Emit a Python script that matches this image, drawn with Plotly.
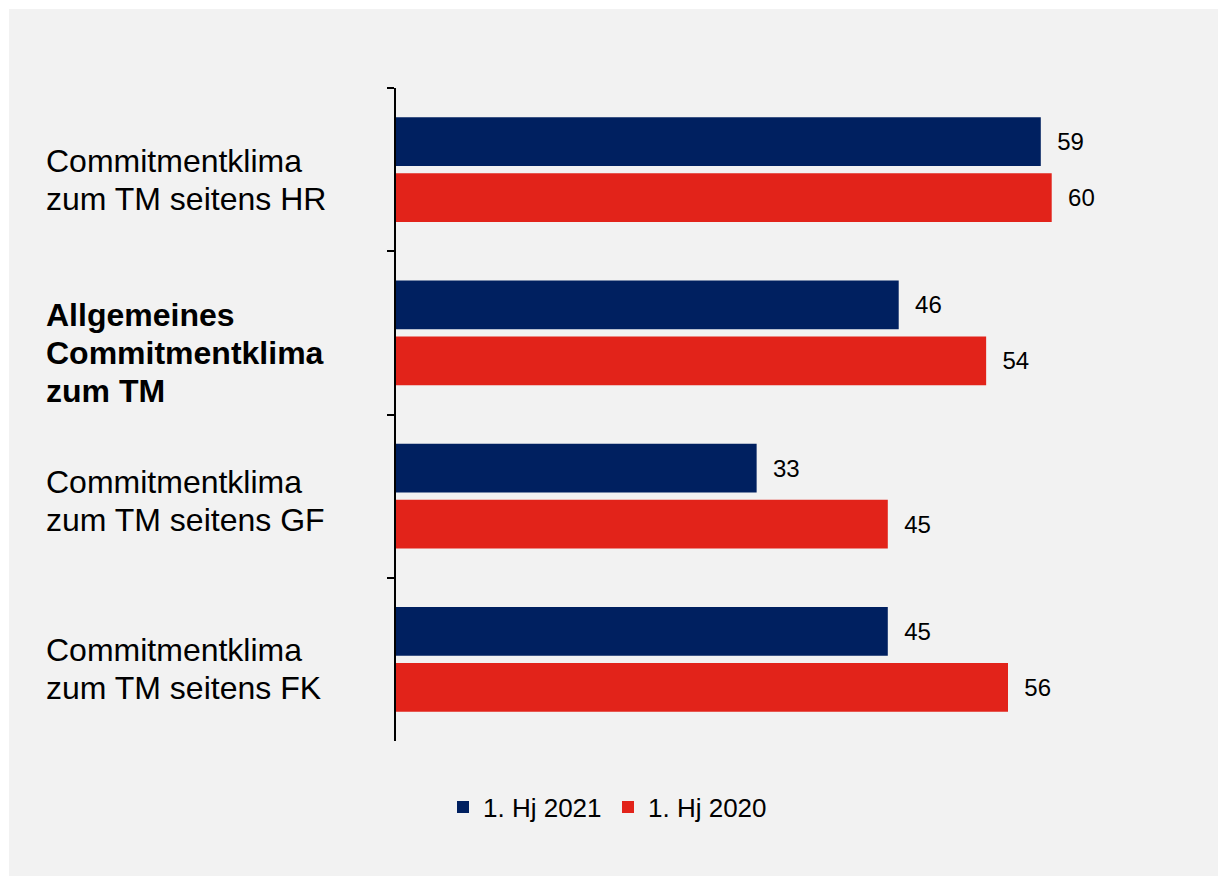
import plotly.graph_objects as go

# ---- data ----
categories = [
    "Commitmentklima\nzum TM seitens HR",
    "Allgemeines\nCommitmentklima\nzum TM",
    "Commitmentklima\nzum TM seitens GF",
    "Commitmentklima\nzum TM seitens FK",
]
series_names = ["1. Hj 2021", "1. Hj 2020"]
values_2021 = [59, 46, 33, 45]
values_2020 = [60, 54, 45, 56]
bold_labels = [False, True, False, False]

# ---- style ----
colors = ["#002060", "#e2231a"]
label_offsets_px = [10, 20, 5, 10]
line_step_px = 38
FONT = "Liberation Sans, Arial, sans-serif"
W, H = 1218, 876
L, T = 396, 88
pw, ph = 765, 653
R, B = W - L - pw, H - T - ph
BORDER = 9


def px_x(p):
    return (p - L) / pw


def px_y(p):
    return (T + ph - p) / ph


fig = go.Figure()
for name, vals, color in zip(series_names, [values_2021, values_2020], colors):
    fig.add_trace(go.Bar(
        y=categories, x=vals, orientation="h", name=name,
        marker=dict(color=color, line=dict(width=0)),
        texttemplate="\u00a0\u00a0%{x}", textposition="outside",
        textfont=dict(size=24, color="#000000", family=FONT),
        constraintext="none", cliponaxis=False, hoverinfo="skip",
    ))

annotations = []
for cat, bold, off in zip(categories, bold_labels, label_offsets_px):
    lines = cat.split("\n")
    n = len(lines)
    for j, line in enumerate(lines):
        annotations.append(dict(
            x=px_x(44), xref="paper", xanchor="left",
            y=cat, yref="y", yanchor="middle",
            yshift=-(off + (j - (n - 1) / 2) * line_step_px),
            text=f"<b>{line}</b>" if bold else line,
            showarrow=False, align="left",
            font=dict(size=32, color="#000000", family=FONT),
        ))

shapes = [
    dict(type="rect", xref="paper", yref="paper", layer="above",
         x0=px_x(0), x1=px_x(W), y0=px_y(BORDER), y1=px_y(0),
         fillcolor="white", line=dict(width=0)),
    dict(type="rect", xref="paper", yref="paper", layer="above",
         x0=px_x(0), x1=px_x(BORDER), y0=px_y(H), y1=px_y(0),
         fillcolor="white", line=dict(width=0)),
]

fig.update_layout(
    width=W, height=H,
    margin=dict(l=L, r=R, t=T, b=B, autoexpand=False),
    paper_bgcolor="#f2f2f2", plot_bgcolor="#f2f2f2",
    barmode="group", bargap=0.315, bargroupgap=0.13,
    font=dict(family=FONT, color="#000000"),
    xaxis=dict(range=[0, 70], visible=False, showgrid=False, zeroline=False),
    yaxis=dict(autorange="reversed", showline=True, linecolor="#000000", linewidth=2,
               ticks="outside", tickson="boundaries", ticklen=7, tickwidth=2,
               tickcolor="#000000", showticklabels=False, showgrid=False, zeroline=False),
    legend=dict(orientation="h", xref="paper", x=px_x(443), xanchor="left",
                yref="paper", y=px_y(807), yanchor="middle",
                entrywidth=120, entrywidthmode="pixels",
                font=dict(size=26, family=FONT, color="#000000"),
                bgcolor="rgba(0,0,0,0)", traceorder="normal"),
    annotations=annotations,
    shapes=shapes,
)

fig.write_html(
    "out.html",
    config={"displayModeBar": False},
    post_script="document.body.style.margin='0';document.body.style.overflow='hidden';",
)
